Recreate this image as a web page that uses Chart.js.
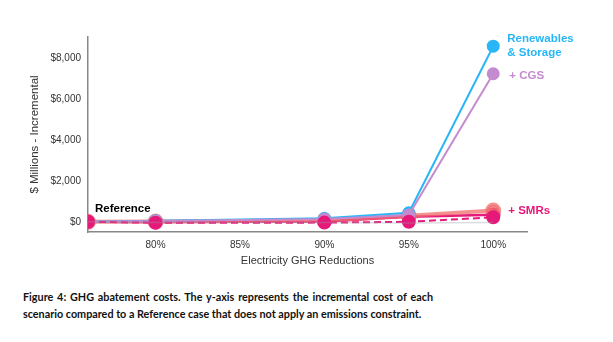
<!DOCTYPE html>
<html>
<head>
<meta charset="utf-8">
<script src="https://cdn.jsdelivr.net/npm/chart.js@4.4.1/dist/chart.umd.min.js"></script>
<style>
  body { margin: 0; background: #fff; width: 613px; height: 342px; overflow: hidden; }
  #wrap { position: relative; width: 613px; height: 280px; }
  #caption {
    position: absolute; left: 23px; top: 288px; width: 410px;
    font-family: Lato, "Open Sans", sans-serif; font-weight: bold; font-size: 10.8px;
    line-height: 17px; color: #111;
  }
  #caption .l1 { white-space: nowrap; text-align: justify; text-align-last: justify; }
  #caption .l2 { white-space: nowrap; }
</style>
</head>
<body>
<div id="wrap"><canvas id="ghgChart"></canvas></div>
<div id="caption">
  <div class="l1">Figure 4: GHG abatement costs. The y-axis represents the incremental cost of each</div>
  <div class="l2">scenario compared to a Reference case that does not apply an emissions constraint.</div>
</div>
<script>
// Smanjenje emisija (%) i dodatni troškovi po scenariju ($ miliona)
const reductions = [76, 80, 90, 95, 100];
const renewables = [0, 50, 170, 440, 8600];
const cgs = [0, 40, 140, 330, 7250];
const smrsHigh = [0, 10, 60, 290, 550];
const smrs = [0, -10, 20, 250, 340];
const smrsLow = [0, -50, -40, 0, 220];
const baseline = [0, -40, -40, -60, -40];

const xTicks = [80, 85, 90, 95, 100];
const yTicks = [0, 2000, 4000, 6000, 8000];

const toPoints = vals => vals.map((v, i) => ({ x: reductions[i], y: v }));

// Natpisi pored linija
const seriesLabels = {
  id: 'seriesLabels',
  afterDatasetsDraw(chart) {
    const { ctx, scales: { x, y } } = chart;
    const last = reductions.length - 1;
    const lx = x.getPixelForValue(reductions[last]) + 14;
    ctx.save();
    ctx.font = 'bold 11.5px "Liberation Sans", Arial, sans-serif';
    ctx.textBaseline = 'middle';
    ctx.fillStyle = '#29b6f6';
    ctx.fillText('Renewables', lx, y.getPixelForValue(renewables[last]) - 7);
    ctx.fillText('& Storage', lx, y.getPixelForValue(renewables[last]) + 7);
    ctx.fillStyle = '#c48bcf';
    ctx.fillText('+ CGS', lx + 2, y.getPixelForValue(cgs[last]) + 2);
    ctx.fillStyle = '#e5197a';
    ctx.fillText('+ SMRs', lx + 1, y.getPixelForValue(smrs[last]) - 4);
    ctx.fillStyle = '#000';
    ctx.fillText('Reference', x.getPixelForValue(reductions[0]) + 7, y.getPixelForValue(0) - 13);
    ctx.restore();
  }
};

const ds = (label, vals, color, extra) => Object.assign({
  label, data: toPoints(vals), borderColor: color, backgroundColor: color,
  borderWidth: 2, pointRadius: 5.5, pointHoverRadius: 5.5, tension: 0
}, extra);

const chart = new Chart(document.getElementById('ghgChart'), {
  type: 'line',
  data: {
    datasets: [
      ds('Baseline', baseline, 'rgba(150,160,170,0.35)', { borderWidth: 1.5, pointRadius: 0 }),
      ds('+ SMRs (low)', smrsLow, '#e5197a', { borderDash: [7, 4], pointRadius: 6 }),
      ds('+ CGS', cgs, '#c48bcf'),
      ds('Renewables & Storage', renewables, '#29b6f6'),
      ds('+ SMRs (high)', smrsHigh, 'rgba(240,110,110,0.75)', { borderWidth: 4, pointRadius: 6 }),
      ds('+ SMRs', smrs, '#e5197a', { borderWidth: 2.5, pointRadius: 6 })
    ]
  },
  options: {
    responsive: true,
    maintainAspectRatio: false,
    animation: false,
    events: [],
    layout: { padding: { top: 37, right: 86, bottom: 8, left: 24 } },
    plugins: { legend: { display: false }, tooltip: { enabled: false } },
    scales: {
      x: {
        type: 'linear', min: 76, max: 102,
        grid: { display: false, drawTicks: true, tickLength: 4, tickColor: '#888' },
        border: { color: '#888', width: 1.5 },
        afterBuildTicks: s => { s.ticks = xTicks.map(v => ({ value: v })); },
        ticks: {
          color: '#333', font: { family: '"Liberation Sans", Arial', size: 10 },
          padding: 3, maxRotation: 0, callback: v => v + '%'
        },
        title: {
          display: true, text: 'Electricity GHG Reductions', color: '#333',
          font: { family: '"Liberation Sans", Arial', size: 11 }, padding: { top: 8 }
        },
        afterFit: s => { s.height = 40; }
      },
      y: {
        min: -500, max: 9050,
        grid: { display: false, drawTicks: true, tickLength: 4, tickColor: '#888' },
        border: { color: '#888', width: 1.5 },
        afterBuildTicks: s => { s.ticks = yTicks.map(v => ({ value: v })); },
        ticks: {
          color: '#333', font: { family: '"Liberation Sans", Arial', size: 10 },
          padding: 3, callback: v => '$' + v.toLocaleString('en-US')
        },
        title: {
          display: true, text: '$ Millions - Incremental', color: '#333',
          font: { family: '"Liberation Sans", Arial', size: 11.5 }, padding: { top: 4, bottom: 10 }
        },
        afterFit: s => { s.width = 64; }
      }
    }
  },
  plugins: [seriesLabels]
});
</script>
</body>
</html>
